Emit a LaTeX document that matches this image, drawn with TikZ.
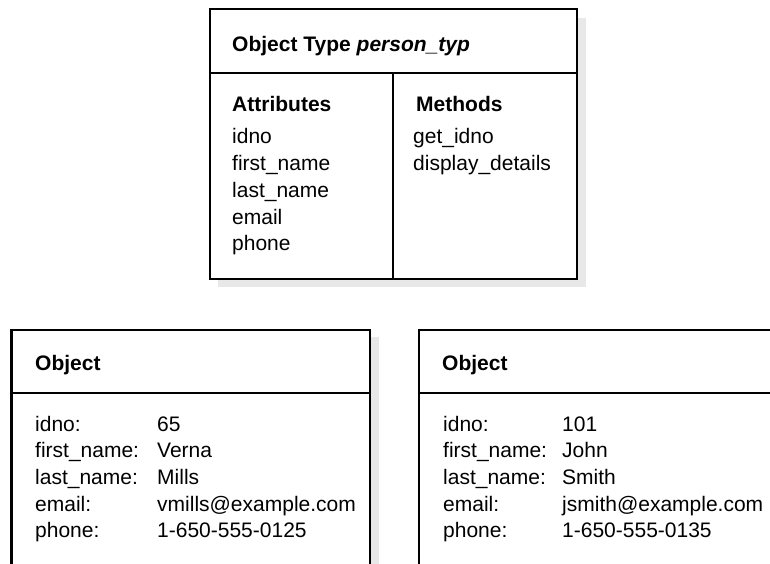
\documentclass[tikz,border=0pt]{standalone}
\usepackage{fontspec}
\setmainfont{Liberation Sans}
\begin{document}
\begin{tikzpicture}[x=1pt,y=-1pt,
  outer/.style={line width=2.6pt, line join=miter},
  divider/.style={line width=1.3pt},
  shade/.style={fill=black!9, draw=none},
  txt/.style={anchor=base west, inner sep=0pt, font=\fontsize{21}{26}\selectfont},
  head/.style={txt, font=\fontsize{21}{26}\selectfont\bfseries}]
\useasboundingbox (0,0) rectangle (770,564);
\clip (0,0) rectangle (770,564);
\fill[white] (0,0) rectangle (770,564);

% ---------- top box: object type ----------
\fill[shade] (218,18) rectangle (586,287);
\fill[white] (210,9) rectangle (577,279);
\coordinate (tnw) at (210,9);
\coordinate (tse) at (577,279);
\coordinate (thl) at (210,73);
\coordinate (thr) at (577,73);
\coordinate (tvt) at (393,73);
\coordinate (tvb) at (393,279);
\draw[divider] (thl) -- (thr);
\draw[divider] (tvt) -- (tvb);
\draw[outer] (tnw) rectangle (tse);

\node[head] (ttitle) at (232,52) {Object Type \itshape person\_typ};
\node[head] (tattr) at (232,112) {Attributes};
\node[head] (tmeth) at (416,112) {Methods};
\foreach \t [count=\i from 0] in {idno,first\_name,last\_name,email,phone}
  \node[txt] (ta\i) at (232,{144+26.7*\i}) {\t};
\foreach \t [count=\i from 0] in {get\_idno,display\_details}
  \node[txt] (tm\i) at (413,{144+26.7*\i}) {\t};

% ---------- bottom left object ----------
\fill[shade] (19,337) rectangle (379,600);
\fill[white] (11.5,330) rectangle (370,590);
\coordinate (lnw) at (11.5,330);
\coordinate (lse) at (370,590);
\coordinate (lhl) at (11.5,393);
\coordinate (lhr) at (370,393);
\draw[divider] (lhl) -- (lhr);
\draw[outer] (lnw) rectangle (lse);
\node[head] (ltitle) at (35,370) {Object};
\foreach \a/\v [count=\i from 0] in {idno:/65,first\_name:/Verna,last\_name:/Mills,email:/vmills@example.com,phone:/1-650-555-0125}{
  \node[txt] (la\i) at (35,{431+26.7*\i}) {\a};
  \node[txt] (lv\i) at (157,{431+26.7*\i}) {\v};
}

% ---------- bottom right object ----------
\fill[shade] (427,337) rectangle (800,600);
\fill[white] (419,330) rectangle (790,590);
\coordinate (rnw) at (419,330);
\coordinate (rse) at (790,590);
\coordinate (rhl) at (419,393);
\coordinate (rhr) at (790,393);
\draw[divider] (rhl) -- (rhr);
\draw[outer] (rnw) rectangle (rse);
\node[head] (rtitle) at (442,370) {Object};
\foreach \a/\v [count=\i from 0] in {idno:/101,first\_name:/John,last\_name:/Smith,email:/jsmith@example.com,phone:/1-650-555-0135}{
  \node[txt] (ra\i) at (443,{431+26.7*\i}) {\a};
  \node[txt] (rv\i) at (562,{431+26.7*\i}) {\v};
}
\end{tikzpicture}
\end{document}
